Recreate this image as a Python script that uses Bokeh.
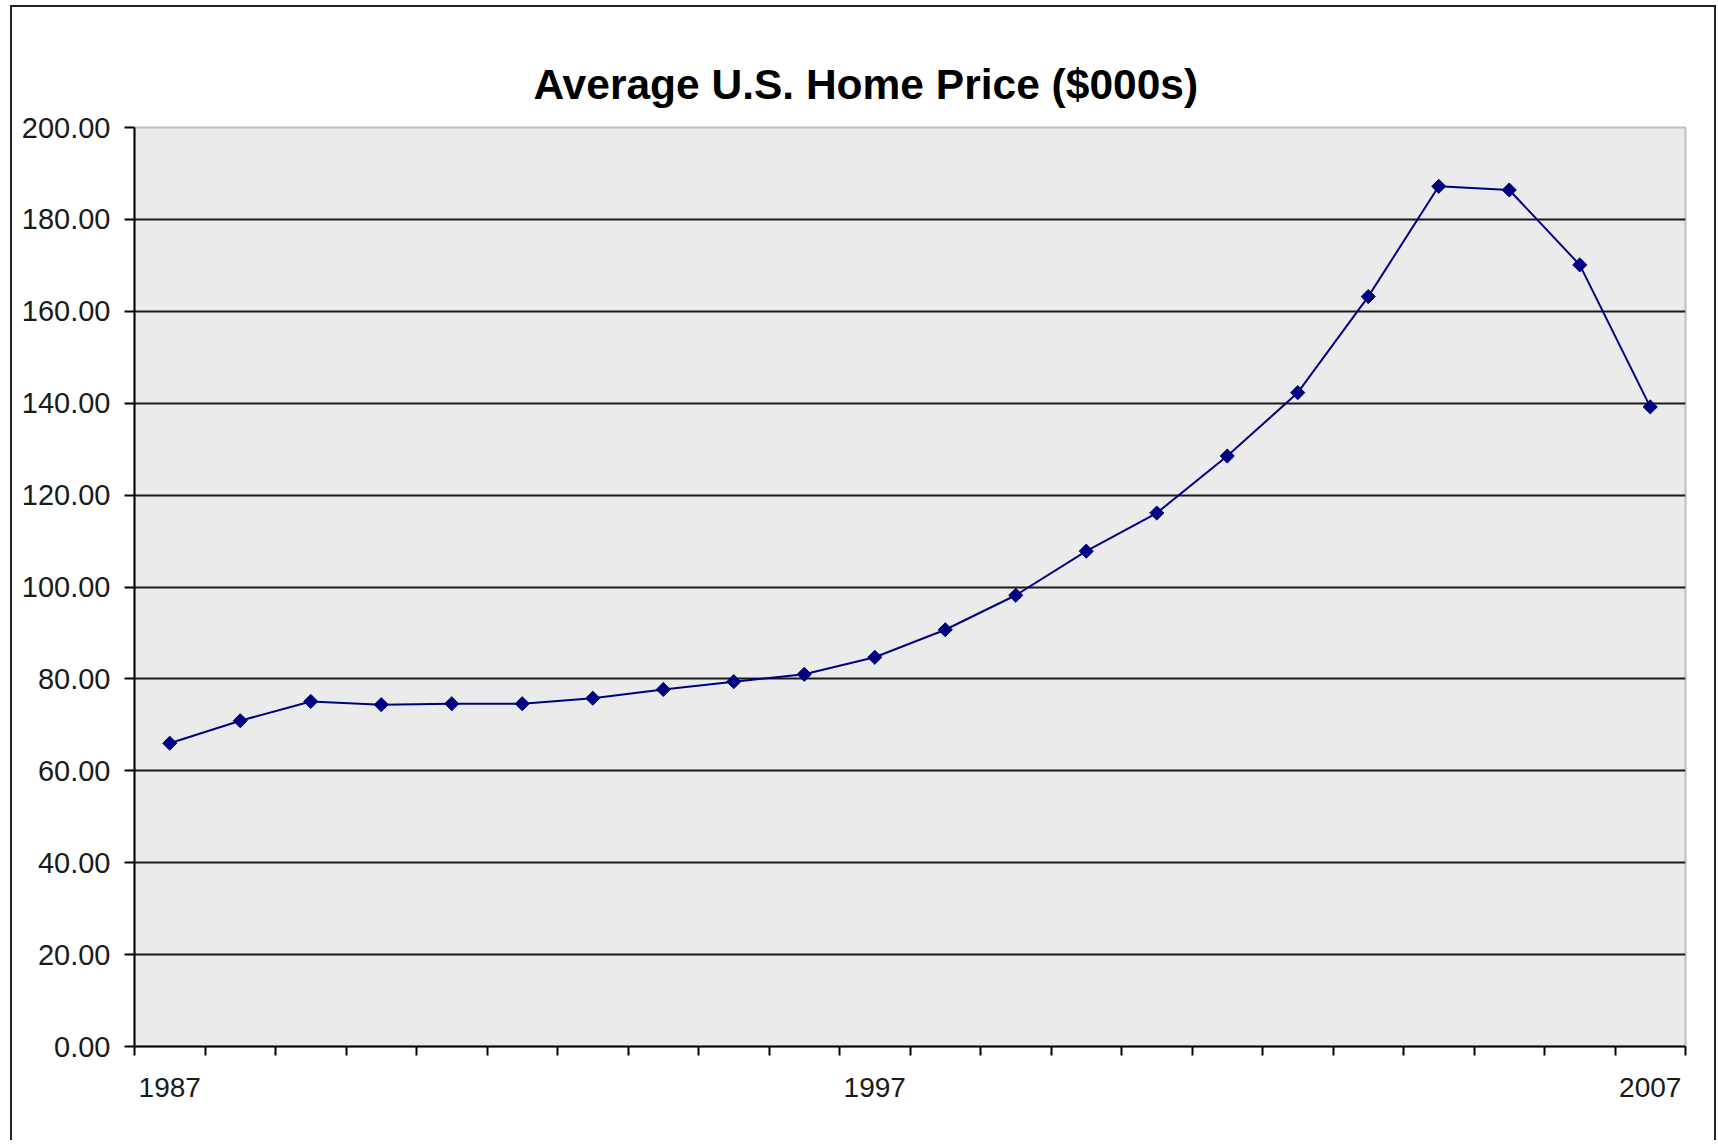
import math
from bokeh.plotting import figure
from bokeh.models import FixedTicker, Range1d, PrintfTickFormatter, Title
from bokeh.embed import file_html
from bokeh.resources import INLINE

# ---- data ----
title_text = "Average U.S. Home Price ($000s)"
prices = [66.0, 70.9, 75.1, 74.4, 74.6, 74.6, 75.8, 77.7, 79.4, 81.0, 84.7,
          90.7, 98.2, 107.8, 116.1, 128.5, 142.3, 163.2, 187.2, 186.4, 170.1, 139.2]
tick_label_index = [0, 10, 21]
tick_labels = ["1987", "1997", "2007"]
y_ticks = [0, 20, 40, 60, 80, 100, 120, 140, 160, 180, 200]
grid_ticks = [20, 40, 60, 80, 100, 120, 140, 160, 180]

n = len(prices)
xs = list(range(n))

FONT = "Liberation Sans"
W, H = 1716, 1140

p = figure(width=W, height=H, output_backend="svg", toolbar_location=None,
           x_range=Range1d(-0.5, n - 0.5), y_range=Range1d(0, 200),
           min_border_left=134, min_border_right=W - 1685, min_border_top=127,
           min_border_bottom=H - 1046)

p.title = Title(text=title_text, align="left", offset=399,
                text_font=FONT, text_font_size="42.5px", text_font_style="bold",
                text_color="black", standoff=39)

p.background_fill_color = "#ebebeb"
p.border_fill_color = None
p.outline_line_color = "#c0c0c0"
p.outline_line_width = 2
line = "linear-gradient(#222, #222)"
p.styles = {
    "background-color": "white",
    "background-image": f"{line}, {line}, {line}",
    "background-repeat": "no-repeat",
    "background-position": "10px 5px, 10px 5px, right 0px top 5px",
    "background-size": "2px 100%, calc(100% - 10px) 2px, 2px 100%",
}

# x axis
xa = p.xaxis[0]
xa.ticker = FixedTicker(ticks=tick_label_index,
                        minor_ticks=[i - 0.5 for i in range(n + 1)])
xa.major_label_overrides = {i: lab for i, lab in zip(tick_label_index, tick_labels)}
xa.major_tick_out = 0
xa.major_tick_in = 0
xa.minor_tick_out = 9
xa.minor_tick_in = 0
xa.minor_tick_line_color = "black"
xa.minor_tick_line_width = 2
xa.axis_line_color = "black"
xa.axis_line_width = 2
xa.major_label_standoff = 22
xa.major_label_text_font = FONT
xa.major_label_text_font_size = "28px"
xa.major_label_text_color = "#1a1a1a"

# y axis
ya = p.yaxis[0]
ya.ticker = FixedTicker(ticks=y_ticks)
ya.formatter = PrintfTickFormatter(format="%.2f")
ya.major_tick_out = 10
ya.major_tick_in = 0
ya.minor_tick_out = 0
ya.minor_tick_in = 0
ya.major_tick_line_color = "black"
ya.major_tick_line_width = 2
ya.axis_line_color = "black"
ya.axis_line_width = 2
ya.major_label_standoff = 14
ya.major_label_text_font = FONT
ya.major_label_text_font_size = "29px"
ya.major_label_text_color = "#1a1a1a"

p.xgrid.visible = False
p.ygrid.ticker = FixedTicker(ticks=grid_ticks)
p.ygrid.grid_line_color = "#1a1a1a"
p.ygrid.grid_line_width = 2

p.line(xs, prices, line_color="#000080", line_width=2)
p.scatter(xs, prices, marker="square", size=10, angle=math.pi / 4,
          fill_color="#000080", line_color="#000080")

open("out.html", "w").write(file_html(p, INLINE))
